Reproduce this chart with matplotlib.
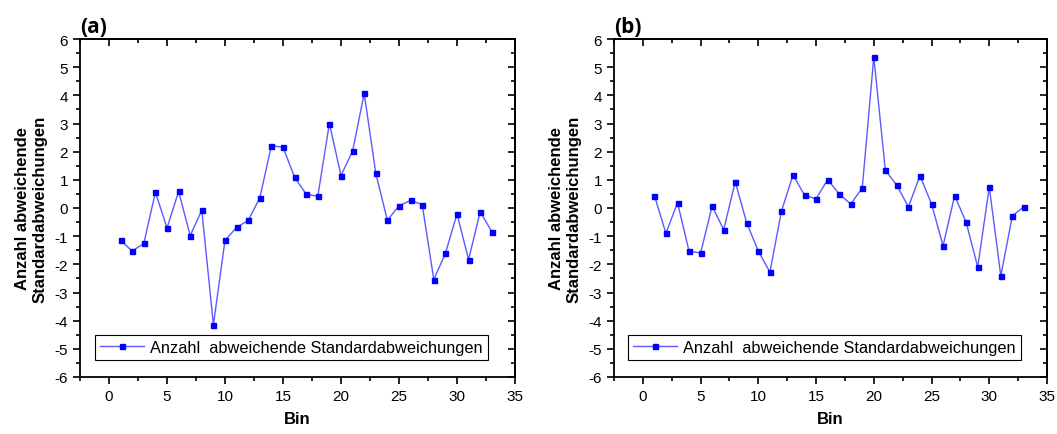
import matplotlib.pyplot as plt
import numpy as np
from matplotlib.ticker import MultipleLocator

plt.rcParams["font.family"] = ["Liberation Sans", "DejaVu Sans"]
plt.rcParams["axes.unicode_minus"] = False

bins = np.arange(1, 34)
werte_a = [-1.15, -1.53, -1.26, 0.56, -0.71, 0.59, -0.98, -0.08, -4.15, -1.15,
           -0.69, -0.44, 0.36, 2.21, 2.16, 1.09, 0.49, 0.42, 3.0, 1.15,
           2.02, 4.07, 1.23, -0.44, 0.08, 0.27, 0.12, -2.54, -1.61, -0.21,
           -1.83, -0.13, -0.84]
werte_b = [0.44, -0.9, 0.19, -1.53, -1.6, 0.07, -0.77, 0.93, -0.54, -1.53,
           -2.28, -0.12, 1.17, 0.46, 0.32, 1.01, 0.5, 0.14, 0.71, 5.36,
           1.34, 0.8, 0.04, 1.15, 0.14, -1.34, 0.44, -0.51, -2.1, 0.74,
           -2.41, -0.28, 0.05]
titel = ["(a)", "(b)"]
legende = "Anzahl  abweichende Standardabweichungen"

fig = plt.figure(figsize=(10.57, 4.35), dpi=100)
ax_a = fig.add_axes([80 / 1057, 1 - 378 / 435, 435 / 1057, 338 / 435])
ax_b = fig.add_axes([614 / 1057, 1 - 378 / 435, 433 / 1057, 338 / 435])

for ax, werte, t in zip([ax_a, ax_b], [werte_a, werte_b], titel):
    ax.plot(bins, werte, color="#5a5aff", lw=1.0, marker="s", ms=3.6,
            mfc="#0000ff", mec="#0000ff", label=legende)
    ax.set_xlim(-2.5, 35)
    ax.set_ylim(-6, 6)
    ax.xaxis.set_major_locator(MultipleLocator(5))
    ax.xaxis.set_minor_locator(MultipleLocator(2.5))
    ax.yaxis.set_major_locator(MultipleLocator(1))
    ax.yaxis.set_minor_locator(MultipleLocator(0.5))
    ax.tick_params(which="both", direction="out", top=False, right=False,
                   labelsize=11, width=1.2)
    ax.tick_params(which="major", length=5)
    ax.tick_params(which="minor", length=3)
    # innere Ticks oben und rechts
    sec_x = ax.secondary_xaxis("top")
    sec_x.xaxis.set_major_locator(MultipleLocator(5))
    sec_x.xaxis.set_minor_locator(MultipleLocator(2.5))
    sec_x.tick_params(which="both", direction="in", labeltop=False, width=1.2)
    sec_x.tick_params(which="major", length=5)
    sec_x.tick_params(which="minor", length=3)
    sec_y = ax.secondary_yaxis("right")
    sec_y.yaxis.set_major_locator(MultipleLocator(1))
    sec_y.yaxis.set_minor_locator(MultipleLocator(0.5))
    sec_y.tick_params(which="both", direction="in", labelright=False, width=1.2)
    sec_y.tick_params(which="major", length=5)
    sec_y.tick_params(which="minor", length=3)
    for s in ax.spines.values():
        s.set_linewidth(1.3)
    sec_x.spines["top"].set_linewidth(1.3)
    sec_y.spines["right"].set_linewidth(1.3)
    ax.set_xlabel("Bin", fontsize=12, fontweight="bold", labelpad=6)
    ax.set_ylabel("Anzahl abweichende\nStandardabweichungen", fontsize=12,
                  fontweight="bold", labelpad=5)
    ax.set_title(t, loc="left", x=0.0, fontsize=15, fontweight="bold",
                 family=["Open Sans", "DejaVu Sans"], pad=5)
    leg = ax.legend(loc="lower center", bbox_to_anchor=(0.486, 0.05),
                    fontsize=11.8, handlelength=2.7, borderpad=0.3,
                    fancybox=False, framealpha=1, edgecolor="black",
                    borderaxespad=0, handletextpad=0.35)
    leg.get_frame().set_linewidth(0.8)

fig.savefig("out.png", dpi=100)
